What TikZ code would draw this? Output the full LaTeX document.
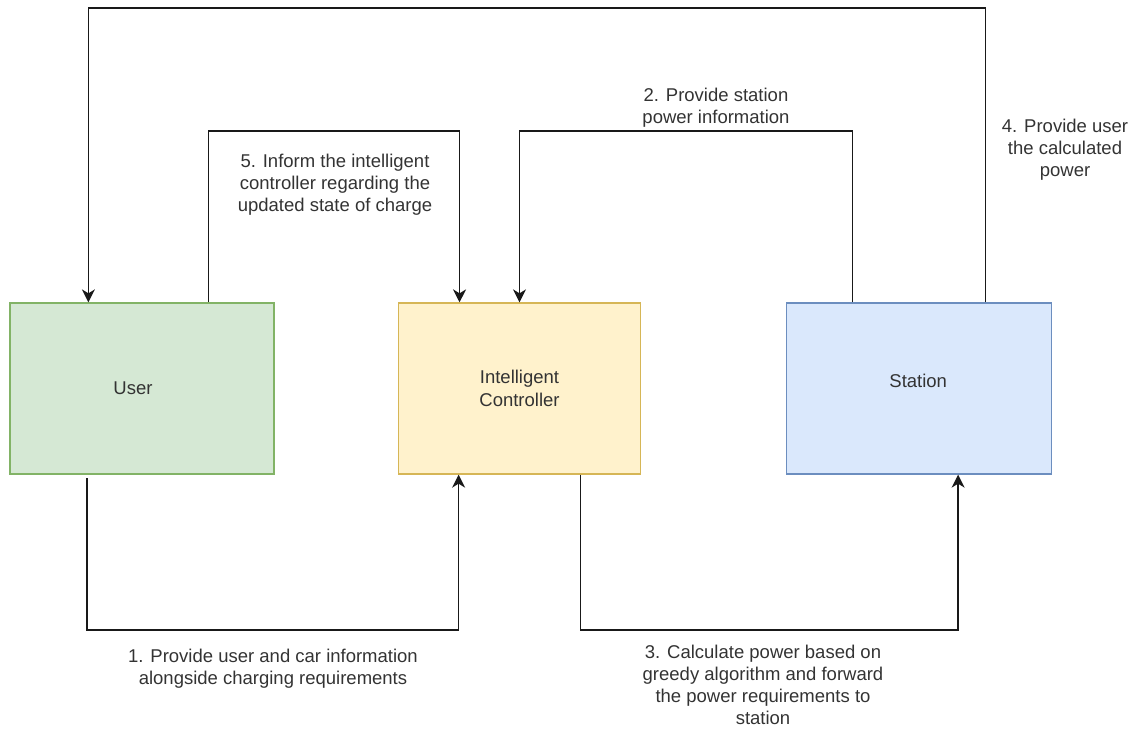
\documentclass[tikz,border=0pt]{standalone}
\usepackage{fontspec}
\setmainfont{Liberation Sans}
\usetikzlibrary{calc,arrows.meta}

\definecolor{userfill}{HTML}{D5E8D4}
\definecolor{userline}{HTML}{82B366}
\definecolor{ctrlfill}{HTML}{FFF2CC}
\definecolor{ctrlline}{HTML}{D6B656}
\definecolor{statfill}{HTML}{DAE8FC}
\definecolor{statline}{HTML}{6C8EBF}
\definecolor{txt}{HTML}{333333}

\tikzset{
  block/.style={draw, line width=1.3pt, minimum height=171pt, inner sep=0pt},
  blocktext/.style={text=txt, align=center, inner sep=0pt,
    font=\fontsize{18.5}{22.5}\selectfont},
  conn/.style={draw=black!90, line width=1.4pt,
    -{Stealth[length=13pt,width=13pt,inset=4pt]}},
  lbl/.style={text=txt, align=center, inner sep=0pt,
    font=\fontsize{18.5}{22}\selectfont}
}

\begin{document}
\begin{tikzpicture}[x=1pt,y=-1pt]
\useasboundingbox (0,0) rectangle (1139,729);

% participants
\node[block, fill=userfill, draw=userline, minimum width=264pt] (user) at (142,388.5) {};
\node[block, fill=ctrlfill, draw=ctrlline, minimum width=242.4pt] (ctrl) at (519.5,388.5) {};
\node[block, fill=statfill, draw=statline, minimum width=265pt] (stat) at (919.2,388.5) {};
\node[blocktext] (usert) at ($(user.center)+(-9,0)$) {User};
\node[blocktext] (ctrlt) at ($(ctrl.center)+(0,0)$) {Intelligent\\Controller};
\node[blocktext] (statt) at ($(stat.center)+(-1,-8)$) {Station};

% attachment points on the block edges
\coordinate (uN1) at ($(user.north west)!0.298!(user.north east)$);
\coordinate (uN2) at ($(user.north west)!0.75!(user.north east)$);
\coordinate (uS)  at ($(user.south west)!0.293!(user.south east)+(0,3.5)$);
\coordinate (cN1) at ($(ctrl.north west)!0.254!(ctrl.north east)$);
\coordinate (cN2) at ($(ctrl.north west)!0.5!(ctrl.north east)$);
\coordinate (cS1) at ($(ctrl.south west)!0.25!(ctrl.south east)$);
\coordinate (cS2) at ($(ctrl.south west)!0.75!(ctrl.south east)$);
\coordinate (sN1) at ($(stat.north west)!0.249!(stat.north east)$);
\coordinate (sN2) at ($(stat.north west)!0.748!(stat.north east)$);
\coordinate (sS)  at ($(stat.south west)!0.646!(stat.south east)$);

% 1. user -> controller (below)
\draw[conn] (uS) -- (uS |- 0,630) -- (cS1 |- 0,630) -- (cS1);
% 2. station -> controller (above)
\draw[conn] (sN1) -- (sN1 |- 0,131) -- (cN2 |- 0,131) -- (cN2);
% 3. controller -> station (below)
\draw[conn] (cS2) -- (cS2 |- 0,630) -- (sS |- 0,630) -- (sS);
% 4. station -> user (outer loop)
\draw[conn] (sN2) -- (sN2 |- 0,8) -- (uN1 |- 0,8) -- (uN1);
% 5. user -> controller (above)
\draw[conn] (uN2) -- (uN2 |- 0,131) -- (cN1 |- 0,131) -- (cN1);

% step labels
\node[lbl] (l1) at (273,669) {1. Provide user and car information\\alongside charging requirements};
\node[lbl] (l2) at (716,108) {2. Provide station\\power information};
\node[lbl] (l3) at (763,685) {3. Calculate power based on\\greedy algorithm and forward\\the power requirements to\\station};
\node[lbl] (l4) at (1065,150) {4. Provide user\\the calculated\\power};
\node[lbl] (l5) at (335,185) {5. Inform the intelligent\\controller regarding the\\updated state of charge};
\end{tikzpicture}
\end{document}
